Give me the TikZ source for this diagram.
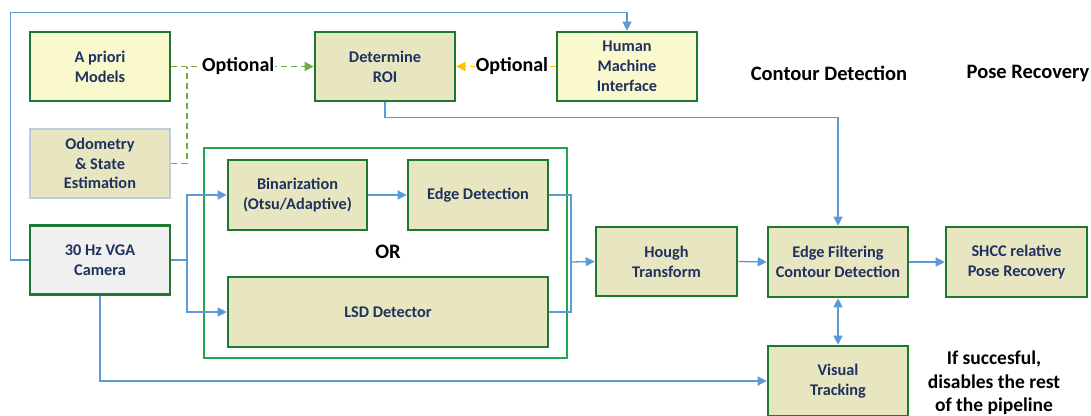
\documentclass[tikz,border=0pt]{standalone}
\usepackage{fontspec}
\setmainfont{Carlito}
\usetikzlibrary{arrows.meta,calc}
\definecolor{bordergreen}{RGB}{30,120,50}
\definecolor{framegreen}{RGB}{35,165,80}
\definecolor{lightyel}{RGB}{250,248,205}
\definecolor{khaki}{RGB}{232,230,192}
\definecolor{camgray}{RGB}{240,240,240}
\definecolor{odoborder}{RGB}{190,205,222}
\definecolor{navy}{RGB}{31,50,95}
\definecolor{lineblue}{RGB}{91,155,213}
\definecolor{dashgreen}{RGB}{112,173,71}
\definecolor{dashorange}{RGB}{255,192,0}
\tikzset{
  blk/.style={draw=bordergreen,line width=2.6pt,fill=khaki,minimum width=140pt,minimum height=69pt,inner sep=0pt,
    align=center,text=navy,font=\fontsize{16.3}{19.8}\selectfont\bfseries},
  bl/.style={draw=lineblue,line width=1.3pt},
  tip/.style={-{Triangle[length=9pt,width=9pt]}},
  optg/.style={draw=dashgreen,line width=1.5pt,dash pattern=on 6pt off 4pt},
  opto/.style={draw=dashorange,line width=1.5pt,dash pattern=on 6pt off 4pt},
  optlbl/.style={font=\fontsize{20}{22}\selectfont\bfseries,fill=white,inner sep=1pt,text=black},
  hdr/.style={font=\fontsize{20.5}{24}\selectfont\bfseries,text=black,align=center}
}
\begin{document}
\begin{tikzpicture}[x=1pt,y=-1pt]
\useasboundingbox[fill=white] (0,0) rectangle (1091,415);
\clip (0,0) rectangle (1091,415);
% frame
\node[draw=framegreen,line width=2.2pt,minimum width=363pt,minimum height=210pt,inner sep=0pt] (frame) at (385.5,253) {};
% boxes
\node[blk,fill=lightyel] (apriori) at (100,66.5) {A priori\\Models};
\node[blk,draw=odoborder,fill=khaki] (odo) at (100,163.5) {Odometry\\\& State\\Estimation};
\node[blk,fill=camgray] (cam) at (100,260) {30 Hz VGA\\Camera};
\node[blk] (roi) at (385,66.5) {Determine\\ROI};
\node[blk,fill=lightyel] (hmi) at (627,66.5) {Human\\Machine\\Interface};
\node[blk,minimum width=139pt,minimum height=70pt] (bin) at (297.5,195) {Binarization\\(Otsu/Adaptive)};
\node[blk,minimum height=70pt] (edge) at (478,195) {Edge Detection};
\node[blk,minimum width=320pt,minimum height=70pt] (lsd) at (388,312) {LSD Detector};
\node[blk,minimum width=141pt] (hough) at (666.5,261.5) {Hough\\Transform};
\node[blk,minimum height=70pt] (filt) at (838,262) {Edge Filtering\\Contour Detection};
\node[blk,minimum width=141pt,minimum height=70pt] (shcc) at (1016.5,262) {SHCC relative\\Pose Recovery};
\node[blk,minimum height=70pt] (vis) at (838,381) {Visual\\Tracking};
% texts
\node[hdr] (or) at (388,252) {OR};
\node[hdr] (cd) at (829,73) {Contour Detection};
\node[hdr] (pr) at (1028,73) {Pose Recovery};
\node[hdr,font=\fontsize{19.5}{23.5}\selectfont\bfseries] (succ) at (994,383) {If succesful,\\disables the rest\\of the pipeline};
% coordinates
\coordinate (j1) at (187,66.5);
\coordinate (j2) at (187,260);
\coordinate (j3) at (571,262);
% blue connectors
\draw[bl,tip] (cam.west) -- ++(-18,0) |- ([yshift=18pt]hmi.north) -- (hmi.north);
\draw[bl,tip] (roi.south) -- ++(0,15) -| (filt.north);
\draw[bl] (cam.east) -- (j2);
\draw[bl,tip] (j2) |- (bin.west);
\draw[bl,tip] (j2) |- (lsd.west);
\draw[bl,tip] (bin.east) -- (edge.west);
\draw[bl] (edge.east) -| (j3);
\draw[bl] (lsd.east) -| (j3);
\draw[bl,tip] (j3) -- (hough.west);
\draw[bl,tip] (hough.east) -- (filt.west);
\draw[bl,tip] (filt.east) -- (shcc.west);
\draw[bl,{Triangle[length=9pt,width=9pt]}-{Triangle[length=9pt,width=9pt]}] (filt.south) -- (vis.north);
\draw[bl,tip] (cam.south) |- (vis.west);
% optional dashed
\draw[optg] (odo.east) -| (j1);
\draw[optg,-{Triangle[length=9pt,width=9pt]}] (apriori.east) -- (roi.west) node[optlbl,pos=0.47] (opt1) {Optional};
\draw[opto,-{Triangle[length=9pt,width=9pt]}] (hmi.west) -- (roi.east) node[optlbl,pos=0.44] (opt2) {Optional};
\end{tikzpicture}
\end{document}
